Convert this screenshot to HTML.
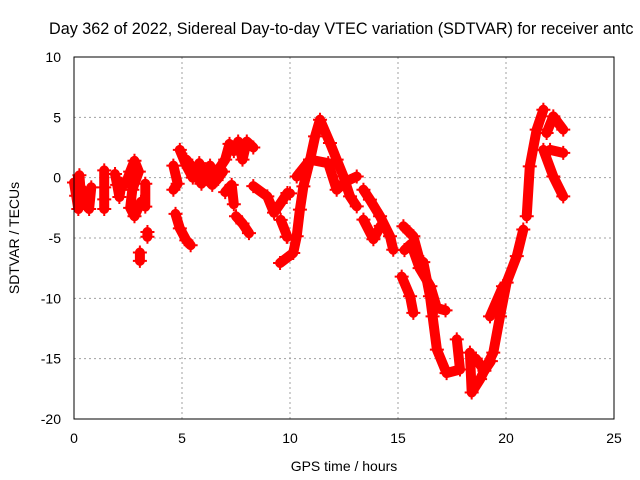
<!DOCTYPE html>
<html><head><meta charset="utf-8"><style>
html,body{margin:0;padding:0;background:#fff;}
svg{display:block;font-family:"Liberation Sans",sans-serif;}
</style></head><body>
<svg id="chart" width="640" height="480" viewBox="0 0 640 480">
<rect x="0" y="0" width="640" height="480" fill="#fff"/>
<g id="grid"></g>
<g id="data"></g>
<rect x="74" y="57" width="540" height="362" fill="none" stroke="#000" stroke-width="1"/>
<g id="ticks"></g>
<text x="49" y="34" font-size="16.2" fill="#000">Day 362 of 2022, Sidereal Day-to-day VTEC variation (SDTVAR) for receiver antc</text>
<text x="344" y="471" font-size="14" text-anchor="middle">GPS time / hours</text>
<text transform="translate(19,238) rotate(-90)" font-size="14" text-anchor="middle">SDTVAR / TECUs</text>
</svg>
<script>
const xTicks=[0,5,10,15,20,25];
const yTicks=[10,5,0,-5,-10,-15,-20];
// each track: [hour, tecu] pairs
const track1=[[0,-0.4],[0.1,-1.5],[0.2,-2.6],[0.3,-1.0],[0.25,0.2]];
const track2=[[0.4,-1.0],[0.5,-2.2],[0.6,-1.4],[0.7,-2.6],[0.8,-0.8]];
const track3=[[1.4,0.6],[1.4,-0.8],[1.4,-1.8],[1.4,-2.6]];
const track4=[[1.9,0.3],[2.0,-0.6],[2.1,-1.6],[2.2,-0.5]];
const track5=[[2.4,-0.5],[2.6,0.5],[2.8,1.4],[3.0,0.5],[2.7,-1.0],[2.6,-2.5],[2.8,-3.2],[3.1,-2.0],[3.3,-2.4],[3.3,-0.5]];
const track6=[[3.05,-6.2],[3.05,-6.9]];
const track7=[[3.4,-4.5],[3.4,-4.9]];
const track8=[[4.6,1.0],[4.8,-0.5],[4.6,-1.0]];
const track9=[[4.7,-3.0],[4.9,-4.2],[5.2,-5.2],[5.4,-5.6]];
const track10=[[4.9,2.3],[5.2,1.0],[5.5,0.0],[5.8,1.2],[6.1,0.0],[6.4,-0.6],[6.7,0.7],[7.0,1.5],[7.2,2.8],[7.4,2.2],[7.6,3.0],[7.8,1.5],[8.0,3.0],[8.3,2.5]];
const track11=[[5.2,1.5],[5.5,0.8],[5.9,-0.5],[6.3,1.0],[6.6,-0.2],[6.9,0.5]];
const track12=[[7.0,-1.2],[7.3,-0.6],[7.4,-2.2]];
const track13=[[7.5,-3.2],[7.8,-3.8],[8.1,-4.6]];
const track14=[[8.3,-0.7],[8.95,-1.55],[9.26,-2.9],[9.57,-2.1],[9.88,-1.27],[10.0,-1.3]];
const track15=[[9.57,-3.5],[9.88,-4.9],[9.85,-4.9]];
const track16=[[9.54,-7.07],[10.15,-6.24],[10.31,-4.86],[10.46,-2.65],[10.62,-0.72],[10.93,1.49],[11.16,3.42],[11.39,4.8],[11.85,2.87],[12.16,1.49],[12.47,0.11],[12.78,-1.55],[13.09,-2.38]];
const track17=[[10.31,0.1],[10.93,1.49],[11.77,1.2],[12.16,-1.0],[12.6,-0.3],[13.09,0.1]];
const track18=[[13.4,-1.0],[13.7,-1.82],[14.17,-3.2],[14.63,-4.86],[14.78,-5.97]];
const track19=[[13.4,-3.48],[13.86,-5.1],[14.2,-4.0]];
const track20=[[15.25,-4.03],[15.71,-4.86],[16.0,-6.8],[16.17,-7.0],[16.48,-9.83],[16.6,-11.5],[16.8,-14.25],[17.25,-16.2],[17.87,-15.9],[17.72,-13.4]];
const track21=[[15.3,-6.0],[15.6,-5.5],[16.0,-7.5],[16.5,-9.0],[16.8,-10.8],[17.2,-11.0]];
const track22=[[15.17,-8.2],[15.56,-9.83],[15.71,-11.2]];
const track23=[[18.33,-14.5],[18.41,-17.8],[18.8,-16.7],[19.41,-14.5],[19.72,-11.5],[20.03,-8.7],[20.5,-6.5],[20.8,-4.3]];
const track24=[[18.6,-15.0],[19.0,-16.0],[19.3,-15.2]];
const track25=[[19.26,-11.5],[19.86,-9.0]];
const track26=[[20.96,-3.2],[21.1,0.94],[21.42,3.98],[21.73,5.63]];
const track27=[[21.73,2.3],[22.19,0.1],[22.65,-1.55]];
const track28=[[21.88,3.7],[22.19,5.08],[22.65,3.98]];
const track29=[[22.04,2.3],[22.65,2.05]];
const tracks=[track1,track2,track3,track4,track5,track6,track7,track8,track9,track10,track11,track12,track13,track14,track15,track16,track17,track18,track19,track20,track21,track22,track23,track24,track25,track26,track27,track28,track29];

const NS="http://www.w3.org/2000/svg";
const X0=74,X1=614,Y0=419,Y1=57,xMin=0,xMax=25,yMin=-20,yMax=10;
function xs(v){return X0+(v-xMin)/(xMax-xMin)*(X1-X0);}
function ys(v){return Y0-(v-yMin)/(yMax-yMin)*(Y0-Y1);}
function mk(tag,attrs,parent){const e=document.createElementNS(NS,tag);for(const k in attrs)e.setAttribute(k,attrs[k]);parent.appendChild(e);return e;}
const grid=document.getElementById('grid'),ticks=document.getElementById('ticks'),data=document.getElementById('data');
xTicks.forEach(t=>{
  const x=xs(t);
  if(t>xMin&&t<xMax){const g=mk('line',{x1:x,y1:Y0,x2:x,y2:Y1,stroke:'#a0a0a0','stroke-dasharray':'2,3'},grid);
  
  }
  const tl=mk('text',{x:x,y:443,'font-size':14,'text-anchor':'middle'},ticks);tl.textContent=t;
  
  
});
yTicks.forEach(t=>{
  const y=ys(t);
  if(t>yMin&&t<yMax){const g=mk('line',{x1:X0,y1:y,x2:X1,y2:y,stroke:'#a0a0a0','stroke-dasharray':'2,3'},grid);
  
  }
  const tl=mk('text',{x:61,y:y+5,'font-size':14,'text-anchor':'end'},ticks);tl.textContent=t;
  
  
});
tracks.forEach((tr,i)=>{
  const pts=tr.map(p=>xs(p[0]).toFixed(1)+','+ys(p[1]).toFixed(1)).join(' ');
  const pl=mk('polyline',{points:pts,fill:'none',stroke:'#ff0000','stroke-width':10,'stroke-linejoin':'round','stroke-linecap':'round'},data);
  
  
  tr.forEach(p=>{
    const x=xs(p[0]),y=ys(p[1]);
    const m=mk('path',{d:`M${x-7},${y}H${x+7}M${x},${y-7}V${y+7}`,stroke:'#ff0000','stroke-width':2},data);
    
    
  });
});
</script>
</body></html>
